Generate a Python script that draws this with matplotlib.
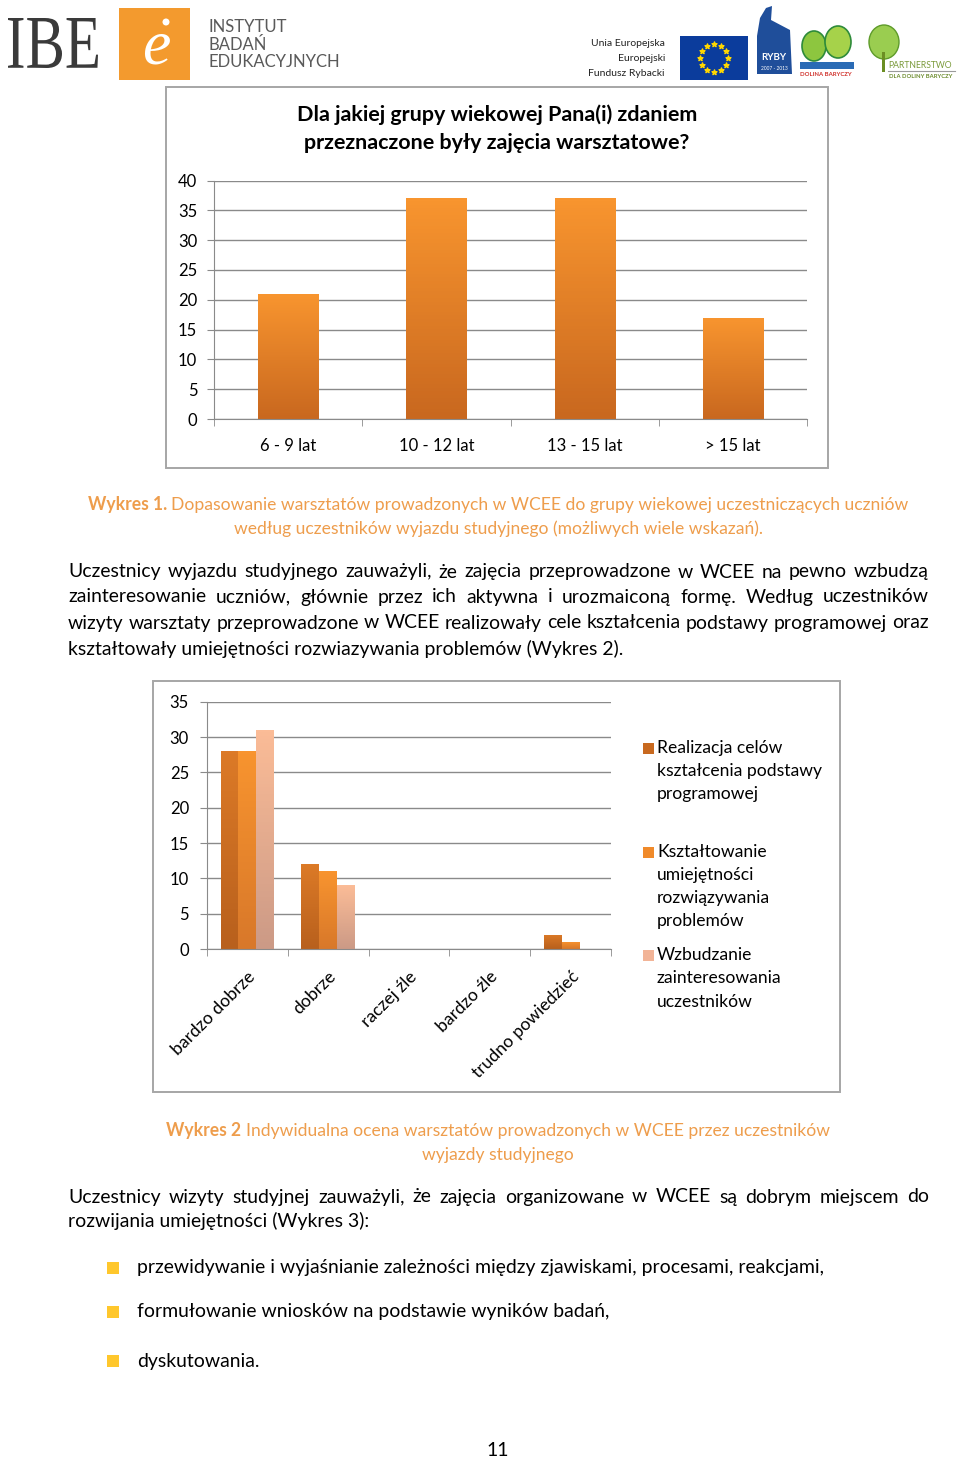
import numpy as np
import matplotlib
matplotlib.use('Agg')
import matplotlib.pyplot as plt
from matplotlib.patches import Rectangle, PathPatch, Polygon, Circle, Ellipse
from matplotlib.colors import LinearSegmentedColormap
from matplotlib.textpath import TextPath
from matplotlib.font_manager import FontProperties
from matplotlib.transforms import Affine2D

plt.rcParams['font.family'] = ['Lato', 'DejaVu Sans']

W, H = 960, 1459

# --- chart 1 data
age_groups = ['6 - 9 lat', '10 - 12 lat', '13 - 15 lat', '> 15 lat']
age_counts = [21, 37, 37, 17]
title1 = ['Dla jakiej grupy wiekowej Pana(i) zdaniem',
          'przeznaczone były zajęcia warsztatowe?']

# --- chart 2 data
ratings = ['bardzo dobrze', 'dobrze', 'raczej źle', 'bardzo źle', 'trudno powiedzieć']
realizacja = [28, 12, 0, 0, 2]
ksztaltowanie = [28, 11, 0, 0, 1]
wzbudzanie = [31, 9, 0, 0, 0]
legend_lines = [['Realizacja celów', 'kształcenia podstawy', 'programowej'],
                ['Kształtowanie', 'umiejętności', 'rozwiązywania', 'problemów'],
                ['Wzbudzanie', 'zainteresowania', 'uczestników']]

# --- page text
caption1 = [('Wykres 1.', 'Dopasowanie warsztatów prowadzonych w WCEE do grupy wiekowej uczestniczących uczniów'),
            ('', 'według uczestników wyjazdu studyjnego (możliwych wiele wskazań).')]
para1 = ['Uczestnicy wyjazdu studyjnego zauważyli, że zajęcia przeprowadzone w WCEE na pewno wzbudzą',
         'zainteresowanie uczniów, głównie przez ich aktywna i urozmaiconą formę. Według uczestników',
         'wizyty warsztaty przeprowadzone w WCEE realizowały cele kształcenia podstawy programowej oraz',
         'kształtowały umiejętności rozwiazywania problemów (Wykres 2).']
caption2 = [('Wykres 2', 'Indywidualna ocena warsztatów prowadzonych w WCEE przez uczestników'),
            ('', 'wyjazdy studyjnego')]
para2 = ['Uczestnicy wizyty studyjnej zauważyli, że zajęcia organizowane w WCEE są dobrym miejscem do',
         'rozwijania umiejętności (Wykres 3):']
bullets = ['przewidywanie i wyjaśnianie zależności między zjawiskami, procesami, reakcjami,',
           'formułowanie wniosków na podstawie wyników badań,',
           'dyskutowania.']

ORANGE_TXT = '#EE9D4C'
GRID = '#8A8A8A'
FRAME = '#A6A6A6'

fig = plt.figure(figsize=(W / 100, H / 100), dpi=100)
R = fig.canvas.get_renderer()

# full page axes in pixel coordinates (y down)
deco = fig.add_axes([0, 0, 1, 1], zorder=0)
deco.set_xlim(0, W)
deco.set_ylim(H, 0)
deco.axis('off')


def measure(s, **kw):
    t = fig.text(0, 0, s, **kw)
    w = t.get_window_extent(renderer=R).width
    t.remove()
    return w


def fit(s, target, **kw):
    return 10 * target / measure(s, fontsize=10, **kw)


def space_w(**kw):
    return measure('a a', **kw) - measure('aa', **kw)


def base_off(size):
    # distance from visual centre of a normal line to its baseline, pixels
    t = fig.text(0, 0.5, 'lp', fontsize=size, va='baseline')
    bb = t.get_window_extent(renderer=R)
    t.remove()
    return (bb.y0 + bb.y1) / 2 - 0.5 * H


def put(x, y, s, size, **kw):
    # y is the visual centre of the line; place on a common baseline
    deco.text(x, y + base_off(size), s, fontsize=size, va='baseline', **kw)


def justify(line, y, x0, x1, size):
    words = line.split()
    ws = [measure(w, fontsize=size) for w in words]
    gap = (x1 - x0 - sum(ws)) / (len(words) - 1)
    x = x0
    for w, wd in zip(words, ws):
        put(x, y, w, size, ha='left')
        x += wd + gap


def mixed_center(bold, rest, y, cx, size, color):
    wb = measure(bold, fontsize=size, fontweight='bold') if bold else 0
    sp = space_w(fontsize=size) if bold else 0
    wr = measure(rest, fontsize=size)
    x = cx - (wb + sp + wr) / 2
    if bold:
        put(x, y, bold, size, fontweight='bold', ha='left', color=color)
    put(x + wb + sp, y, rest, size, ha='left', color=color)


def grad_bars(ax, bars, top, bottom):
    cmap = LinearSegmentedColormap.from_list('g', [bottom, top])
    for b in bars:
        x, y = b.get_xy()
        w, h = b.get_width(), b.get_height()
        if h <= 0:
            continue
        im = ax.imshow(np.linspace(0, 1, 64).reshape(-1, 1), extent=[x, x + w, y, y + h],
                       origin='lower', cmap=cmap, aspect='auto', zorder=2)
        b.set_facecolor('none')
        b.set_edgecolor('none')
        im.set_clip_path(b)


def px_axes(l, t, r, b, z=2):
    return fig.add_axes([l / W, 1 - b / H, (r - l) / W, (b - t) / H], zorder=z)


# ---------------- header logos
tp = TextPath((0, 0), 'IBE', size=100, prop=FontProperties(family='Liberation Serif'))
bb = tp.get_extents()
sx, sy = 90 / bb.width, 50 / bb.height
tr = Affine2D().translate(-bb.x0, -bb.y0).scale(sx, -sy).translate(8, 68) + deco.transData
deco.add_patch(PathPatch(tp, transform=tr, fc='#3a3a3a', ec='none'))

deco.add_patch(Rectangle((119, 8), 71, 72, fc='#F39A2E', ec='none'))
deco.text(156, 48, 'e', fontsize=46, color='white', style='italic',
          family='Liberation Serif', ha='center', va='center')
deco.add_patch(Circle((166, 22), 3.5, fc='white', ec='none'))
for i, s in enumerate(['INSTYTUT', 'BADAŃ', 'EDUKACYJNYCH']):
    deco.text(208, 27 + i * 17.5, s, fontsize=12, color='#5a5a5a', va='center', ha='left')

for i, s in enumerate(['Unia Europejska', 'Europejski', 'Fundusz Rybacki']):
    deco.text(665, 44 + i * 14.5, s, fontsize=7.5, color='#222222', va='center', ha='right')
deco.add_patch(Rectangle((680, 36), 68, 44, fc='#0B3C9C', ec='none'))
ang = np.linspace(0, 2 * np.pi, 13)[:-1]
deco.scatter(714 + 14 * np.cos(ang), 58 + 14 * np.sin(ang), marker='*', s=14, c='#FFD700', zorder=3)

deco.add_patch(Polygon([(757, 36), (760, 18), (766, 8), (772, 6), (771, 20), (790, 30),
                        (792, 74), (757, 74)], closed=True, fc='#1F4E9A', ec='none'))
deco.text(774, 58, 'RYBY', fontsize=7, color='white', fontweight='bold', ha='center', va='center')
deco.text(774, 68, '2007 - 2013', fontsize=3.5, color='white', ha='center', va='center')

deco.add_patch(Ellipse((814, 46), 24, 30, fc='#8DC63F', ec='#2E8B3A', lw=1.2))
deco.add_patch(Ellipse((838, 42), 26, 32, fc='#A6D24A', ec='#2E8B3A', lw=1.2))
deco.add_patch(Rectangle((800, 62), 54, 7, fc='#2A6BB5', ec='none'))
deco.text(826, 74, 'DOLINA BARYCZY', fontsize=4.3, color='#D0302A', ha='center', va='center',
          fontweight='bold')

deco.add_patch(Ellipse((884, 42), 30, 34, fc='#9ACD50', ec='#5E9B2A', lw=1))
deco.add_patch(Rectangle((882, 52), 3, 20, fc='#6B8E23', ec='none'))
deco.plot([888, 955], [71, 71], color='#9a9a9a', lw=0.8)
deco.text(888, 65, 'PARTNERSTWO', fontsize=6.2, color='#7A9A3A', ha='left', va='center')
deco.text(921, 76, 'DLA DOLINY BARYCZY', fontsize=4.2, color='#6A8A2A', ha='center', va='center',
          fontweight='bold')

# ---------------- chart 1
deco.add_patch(Rectangle((166, 87), 662, 381, fc='white', ec=FRAME, lw=1.4))
tsize = fit(title1[0], 400, fontweight='bold')
for i, s in enumerate(title1):
    put(497, 115 + i * 28, s, tsize, fontweight='bold', ha='center')

ax1 = px_axes(214, 180.5, 807, 419)
ax1.set_facecolor('none')
x1 = np.arange(len(age_groups))
b1 = ax1.bar(x1, age_counts, width=0.405, zorder=2)
grad_bars(ax1, b1, '#F8952F', '#C9681F')
ax1.set_xlim(-0.5, len(age_groups) - 0.5)
ax1.set_ylim(0, 40)
ax1.set_yticks(range(0, 41, 5))
ax1.yaxis.grid(True, color=GRID, lw=1)
ax1.set_axisbelow(True)
ax1.set_xticks(x1)
ax1.set_xticklabels(age_groups)
ax1.set_xticks(np.arange(-0.5, len(age_groups)), minor=True)

# ---------------- chart 2
deco.add_patch(Rectangle((153, 681), 687, 411, fc='white', ec=FRAME, lw=1.4))
ax2 = px_axes(207, 701.7, 611, 949)
ax2.set_facecolor('none')
x2 = np.arange(len(ratings))
bw = 0.221
s1 = ax2.bar(x2 - bw, realizacja, width=bw, zorder=2)
s2 = ax2.bar(x2, ksztaltowanie, width=bw, zorder=2)
s3 = ax2.bar(x2 + bw, wzbudzanie, width=bw, zorder=2)
grad_bars(ax2, s1, '#DC7A27', '#B8601D')
grad_bars(ax2, s2, '#F8942F', '#D8782A')
grad_bars(ax2, s3, '#FBBC97', '#CC9A86')
ax2.set_xlim(-0.5, len(ratings) - 0.5)
ax2.set_ylim(0, 35)
ax2.set_yticks(range(0, 36, 5))
ax2.yaxis.grid(True, color=GRID, lw=1)
ax2.set_axisbelow(True)
ax2.set_xticks(x2)
ax2.set_xticklabels(ratings, rotation=45, ha='right', rotation_mode='anchor')
ax2.set_xticks(np.arange(-0.5, len(ratings)), minor=True)

for ax, ypad in ((ax1, 7), (ax2, 8)):
    for sp in ('top', 'right'):
        ax.spines[sp].set_visible(False)
    for sp in ('left', 'bottom'):
        ax.spines[sp].set_color(GRID)
    ax.tick_params(axis='y', length=5, color=GRID, labelsize=12, pad=ypad)
    ax.tick_params(axis='x', which='major', length=0, labelsize=12)
    ax.tick_params(axis='x', which='minor', length=5, color=GRID)
ax1.tick_params(axis='x', which='major', pad=14)
ax2.tick_params(axis='x', which='major', pad=14, labelsize=12.6)

leg_cols = ['#C8691F', '#F08A2A', '#F2B497']
leg_y = [[748, 771, 794], [852, 875, 898, 921], [955, 978, 1002]]
for col, lines, ys in zip(leg_cols, legend_lines, leg_y):
    deco.add_patch(Rectangle((643, ys[0] - 5), 11, 11, fc=col, ec='none'))
    for s, y in zip(lines, ys):
        put(657, y, s, 12.6, ha='left')

# ---------------- page text
csize = (fit(caption1[1][1], 533) + fit(caption1[0][0] + ' ' + caption1[0][1], 814)) / 2
bsize = fit(para1[-1], 555)

for (bold, rest), y in zip(caption1, (505, 529)):
    mixed_center(bold, rest, y, 498, csize, ORANGE_TXT)

for s, y in zip(para1[:-1], (572, 597, 623)):
    justify(s, y, 68, 929, bsize)
put(68, 649, para1[-1], bsize, ha='left')

for (bold, rest), y in zip(caption2, (1131, 1155)):
    mixed_center(bold, rest, y, 498, csize, ORANGE_TXT)

justify(para2[0], 1197, 68, 929, bsize)
put(68, 1222, para2[1], bsize, ha='left')

for s, y in zip(bullets, (1268, 1312, 1361)):
    deco.add_patch(Rectangle((107, y - 6), 12, 12, fc='#FFC72C', ec='none'))
    put(137, y, s, bsize, ha='left')

put(498, 1450, '11', bsize, ha='center')

fig.savefig('out.png', dpi=100)
